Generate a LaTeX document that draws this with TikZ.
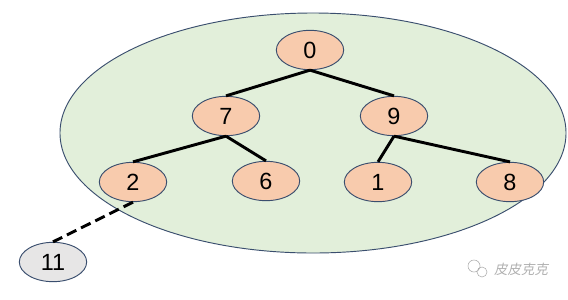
\documentclass[tikz,border=0pt]{standalone}
\usepackage{fontspec}
\setmainfont{Liberation Sans}
\newfontfamily\cjk{Noto Sans CJK SC}
\usetikzlibrary{positioning, shapes.geometric}
\definecolor{cpeach}{HTML}{F8CBAD}
\definecolor{cgreen}{HTML}{E2EFDA}
\definecolor{cgrey}{HTML}{E7E6E6}
\definecolor{cedge}{HTML}{3A4E6E}
\definecolor{cmark}{HTML}{B0B0B0}
\tikzset{
  every picture/.style={x=0.03cm, y=-0.03cm},
  heapnode/.style={ellipse, draw=cedge, line width=0.8pt, fill=#1, minimum width=2.02cm, minimum height=1.18cm, inner sep=0pt, font=\fontsize{20}{22}\selectfont},
  heapnode/.default=cpeach,
  link/.style={line width=2.5pt, draw=black},
  outlink/.style={link, dash pattern=on 9pt off 4.5pt},
  wmtext/.style={font=\cjk\fontsize{11.5}{13}\selectfont, text=cmark, xslant=0.2},
}

\begin{document}
\begin{tikzpicture}
  \useasboundingbox (0,0) rectangle (568,299);
  % the heap region
  \node[ellipse, draw=cedge, line width=0.8pt, fill=cgreen, minimum width=15.18cm, minimum height=7.2cm, inner sep=0pt] (heap) at (313,133) {};
  % nodes
  \node[heapnode] (n0) at (310,50) {0};
  \node[heapnode] (n7) at (226,116) {7};
  \node[heapnode] (n9) at (394,116) {9};
  \node[heapnode] (n2) at (133,182) {2};
  \node[heapnode] (n6) at (266,181) {6};
  \node[heapnode] (n1) at (378,182) {1};
  \node[heapnode] (n8) at (510,182) {8};
  \node[heapnode=cgrey] (n11) at (53,262) {11};
  % edges
  \draw[link] (n0.south) -- (n7.north);
  \draw[link] (n0.south) -- (n9.north);
  \draw[link] (n7.south) -- (n2.north);
  \draw[link] (n7.south) -- (n6.north);
  \draw[link] (n9.south) -- (n1.north);
  \draw[link] (n9.south) -- (n8.north);
  \draw[outlink] (n2.south) -- (n11.north);
  % watermark
  \draw[cmark, line width=0.5pt] (474,266) circle (6) (482,272) circle (5);
  \node[wmtext, anchor=west] (wm) at (491,269) {皮皮克克};
\end{tikzpicture}
\end{document}
